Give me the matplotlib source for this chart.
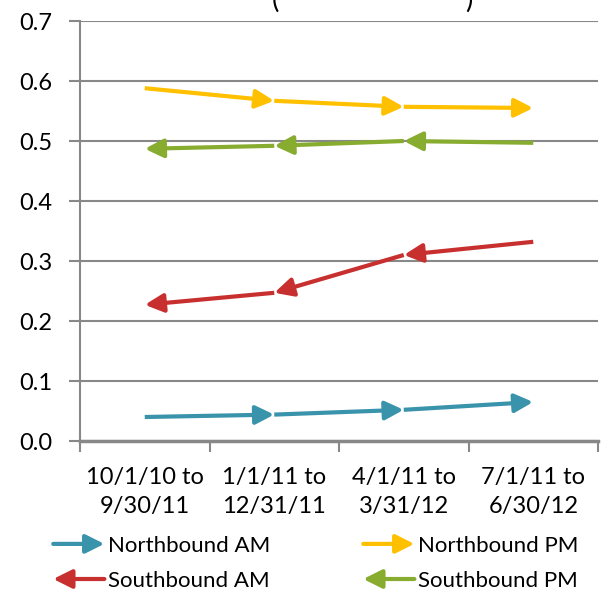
import matplotlib
matplotlib.use("Agg")
import matplotlib.pyplot as plt
from matplotlib.patches import FancyArrowPatch
from matplotlib.lines import Line2D
from matplotlib.legend_handler import HandlerBase

categories = ["10/1/10 to\n9/30/11", "1/1/11 to\n12/31/11",
              "4/1/11 to\n3/31/12", "7/1/11 to\n6/30/12"]
series_names = ["Northbound AM", "Northbound PM", "Southbound AM", "Southbound PM"]
northbound_am = [0.040, 0.044, 0.052, 0.065]
northbound_pm = [0.588, 0.567, 0.557, 0.555]
southbound_am = [0.227, 0.247, 0.310, 0.332]
southbound_pm = [0.487, 0.492, 0.500, 0.497]

colors = {"Northbound AM": "#3893ab", "Northbound PM": "#ffc000",
          "Southbound AM": "#c8302f", "Southbound PM": "#87ac2f"}
grid_color = "#888888"

plt.rcParams["font.family"] = ["Lato", "DejaVu Sans"]

fig = plt.figure(figsize=(6.07, 5.90), dpi=100)
ax = fig.add_axes([80 / 607, 1 - 441 / 590, 518 / 607, 420 / 590])


def draw_arrows(ax, values, color, reverse):
    xs = range(len(values))
    for i in range(len(values) - 1):
        a = (xs[i], values[i])
        b = (xs[i + 1], values[i + 1])
        if reverse:
            a, b = b, a
        arr = FancyArrowPatch(a, b, arrowstyle="-|>", mutation_scale=28,
                              color=color, lw=3.0, shrinkA=0, shrinkB=0,
                              zorder=3, capstyle="butt")
        ax.add_patch(arr)


class ArrowHandler(HandlerBase):
    def __init__(self, reverse):
        super().__init__()
        self.reverse = reverse

    def create_artists(self, legend, orig_handle, xdescent, ydescent,
                       width, height, fontsize, trans):
        y = height / 2 - ydescent
        a, b = (-xdescent, y), (-xdescent + width, y)
        if self.reverse:
            a, b = b, a
        arr = FancyArrowPatch(a, b, arrowstyle="-|>", mutation_scale=28,
                              color=orig_handle.get_color(), lw=3.0,
                              shrinkA=0, shrinkB=0, transform=trans)
        return [arr]


all_series = [northbound_am, northbound_pm, southbound_am, southbound_pm]
for name, vals in zip(series_names, all_series):
    draw_arrows(ax, vals, colors[name], name.startswith("South"))

ax.set_xlim(-0.5, len(categories) - 0.5)
ax.set_ylim(0, 0.7)
ax.set_yticks([i / 10 for i in range(8)])
ax.set_yticklabels(["0.0", "0.1", "0.2", "0.3", "0.4", "0.5", "0.6", "0.7"])
ax.set_xticks(range(len(categories)))
ax.set_xticklabels(categories, linespacing=1.42)
ax.set_xticks([i - 0.5 for i in range(len(categories) + 1)], minor=True)

ax.tick_params(axis="y", length=8, width=1.5, color=grid_color, labelsize=17,
               pad=12)
ax.tick_params(axis="x", which="major", length=0, labelsize=17, pad=19)
ax.tick_params(axis="x", which="minor", length=8, width=1.5, color=grid_color)

ax.grid(axis="y", color=grid_color, lw=1.5)
ax.set_axisbelow(True)
for side in ["top", "right"]:
    ax.spines[side].set_visible(False)
for side in ["left", "bottom"]:
    ax.spines[side].set_color(grid_color)
    ax.spines[side].set_linewidth(1.5)
ax.spines["bottom"].set_linewidth(2.5)

# title is cut off at the top of the picture, only the brackets show
fig.text(275 / 607, 1 - 13 / 590, "(", ha="center", va="bottom", fontsize=20)
fig.text(469 / 607, 1 - 13 / 590, ")", ha="center", va="bottom", fontsize=20)

handles = [Line2D([], [], color=colors[n]) for n in series_names]
handler_map = {h: ArrowHandler(n.startswith("South")) for h, n in zip(handles, series_names)}
order = [0, 2, 1, 3]
fig.legend([handles[i] for i in order], [series_names[i] for i in order],
           handler_map=handler_map, ncol=2, loc="lower left",
           bbox_to_anchor=(41 / 607, -13 / 590), frameon=False, fontsize=16,
           handlelength=2.3, handletextpad=0.15, columnspacing=4.2,
           labelspacing=0.68, borderaxespad=0.15)

fig.savefig("out.png", dpi=100)
